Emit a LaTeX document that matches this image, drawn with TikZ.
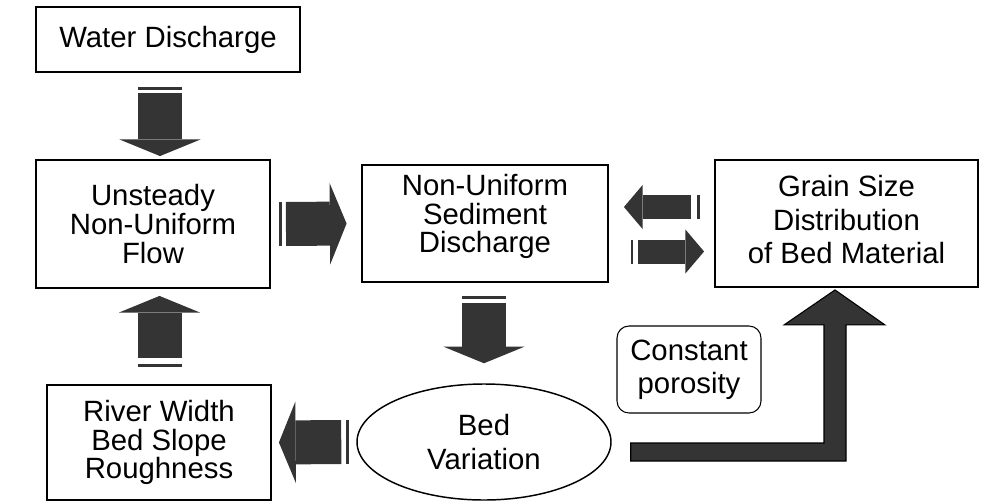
\documentclass[tikz,border=0pt]{standalone}
\usepackage{fontspec}
\setmainfont{Liberation Sans}
\usetikzlibrary{arrows.meta, positioning, shapes.geometric, calc}
\definecolor{arrgray}{RGB}{52,52,52}

\begin{document}
\begin{tikzpicture}[
    x=0.75pt, y=-0.75pt,
    box/.style={draw, line width=1.4pt, inner sep=0pt, align=center},
    oval/.style={draw, ellipse, line width=1.1pt, inner sep=0pt, align=center,
                 minimum width=190.5pt, minimum height=87pt},
    note/.style={draw, rounded corners=9pt, line width=0.8pt, inner sep=0pt, align=center,
                 minimum width=108pt, minimum height=65.25pt},
    bigarr/.style={draw=arrgray, line width=33pt, -{Triangle[width=61pt,length=12.5pt,line width=0pt]}},
    bigbar/.style={draw=arrgray, line width=33pt},
    smallarr/.style={draw=arrgray, line width=18pt, -{Triangle[width=33pt,length=14pt,line width=0pt]}},
    smallbar/.style={draw=arrgray, line width=18pt},
    lshape/.style={fill=arrgray, draw=black, line width=0.8pt},
    font=\fontsize{22}{21.4}\selectfont
]
    \useasboundingbox (0,0) rectangle (983,504);

    \node[box, minimum width=198pt, minimum height=48.75pt, text depth=4pt] (wd) at (168,39.5) {Water Discharge};
    \node[box, minimum width=175.5pt, minimum height=96pt] (flow) at (153,224) {Unsteady\\Non-Uniform\\Flow};
    \node[box, minimum width=184.5pt, minimum height=87.75pt, text depth=15pt] (sed) at (485,223.5) {Non-Uniform\\Sediment\\Discharge};
    \node[box, minimum width=197.25pt, minimum height=95.25pt, text depth=6pt,
          font=\fontsize{22}{25}\selectfont] (grain) at (846.5,223.5) {Grain Size\\Distribution\\of Bed Material};
    \node[box, minimum width=168pt, minimum height=86.25pt] (river) at (159,442.5) {River Width\\Bed Slope\\Roughness};
    \node[oval, font=\fontsize{22}{25.5}\selectfont] (bed) at (484,442) {Bed\\Variation};
    \node[note, font=\fontsize{22}{24.5}\selectfont] (por) at (689,369.5) {Constant\\porosity};

    % water discharge -> flow
    \draw[bigbar] ($(wd.south)+(-8,14)$) -- ($(wd.south)+(-8,17)$);
    \draw[bigarr] ($(wd.south)+(-8,20)$) -- ($(flow.north)+(7,-3)$);
    % flow -> sediment discharge
    \draw[bigbar] ($(flow.east)+(8,0)$) -- ($(flow.east)+(11,0)$);
    \draw[bigarr] ($(flow.east)+(15,0)$) -- ($(sed.west)+(-14.5,0)$);
    % sediment discharge <-> grain size
    \draw[smallbar] ($(grain.west)+(-17,-16.5)$) -- ($(grain.west)+(-14.5,-16.5)$);
    \draw[smallarr] ($(grain.west)+(-23,-16.5)$) -- ($(sed.east)+(15,-16.5)$);
    \draw[smallbar] ($(sed.east)+(22,28)$) -- ($(sed.east)+(24.5,28)$);
    \draw[smallarr] ($(sed.east)+(29,28)$) -- ($(grain.west)+(-10,28)$);
    % sediment discharge -> bed variation
    \draw[bigbar] ($(sed.south)+(-1,13)$) -- ($(sed.south)+(-1,16)$);
    \draw[bigarr] ($(sed.south)+(-1,20)$) -- ($(bed.north)+(0,-20)$);
    % bed variation -> river width
    \draw[bigbar] ($(bed.west)+(-10.5,0)$) -- ($(bed.west)+(-7.5,0)$);
    \draw[bigarr] ($(bed.west)+(-15,0)$) -- ($(river.east)+(7,0)$);
    % river width -> flow
    \draw[bigbar] ($(river.north)+(0.5,-20.5)$) -- ($(river.north)+(0.5,-17.5)$);
    \draw[bigarr] ($(river.north)+(0.5,-26)$) -- ($(flow.south)+(6.5,7)$);
    % bed variation -> grain size
    \coordinate (lfoot) at ($(bed.east)+(19,10)$);
    \coordinate (ltip) at ($(grain.south)+(-11.5,2)$);
    \filldraw[lshape] ($(lfoot)+(0,-9)$) -- ($(ltip |- lfoot)+(-11,-9)$)
        -- ($(ltip)+(-11,35)$) -- ($(ltip)+(-51,35)$) -- (ltip)
        -- ($(ltip)+(50,35)$) -- ($(ltip)+(11,35)$)
        -- ($(ltip |- lfoot)+(11,9)$) -- ($(lfoot)+(0,9)$) -- cycle;
\end{tikzpicture}
\end{document}
